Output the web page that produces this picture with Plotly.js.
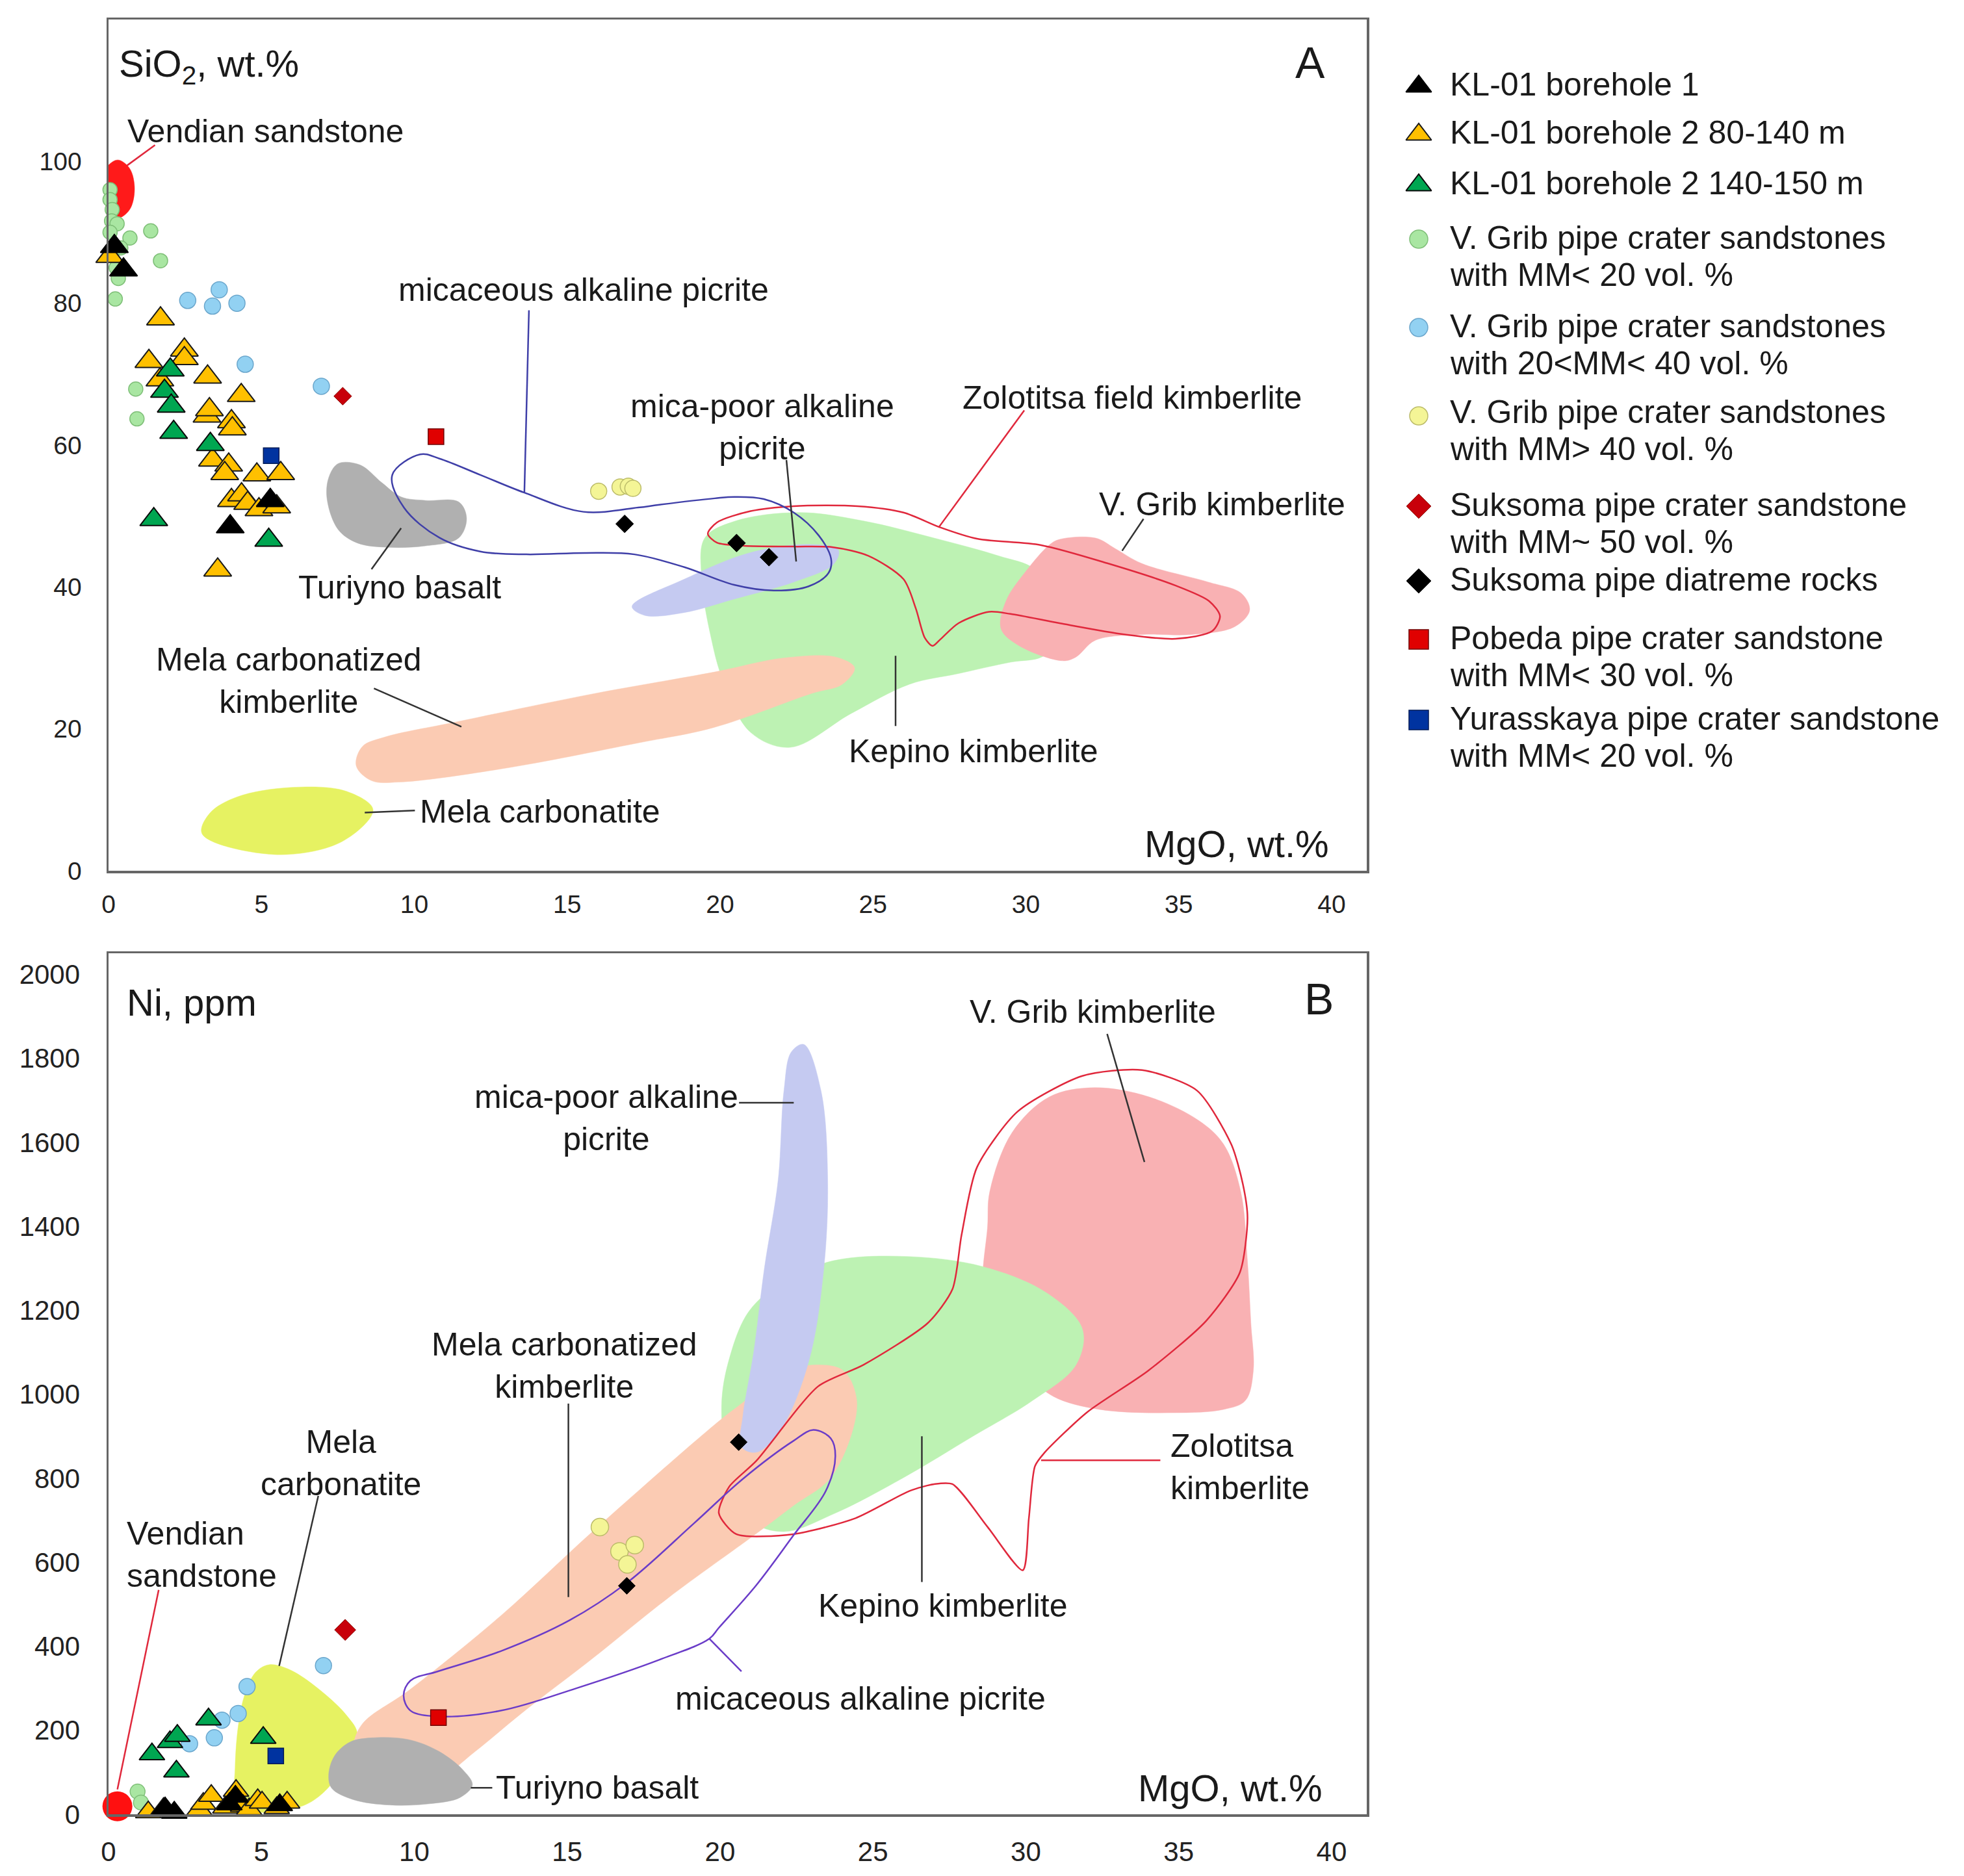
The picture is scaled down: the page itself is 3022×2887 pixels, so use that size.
<!DOCTYPE html>
<html><head><meta charset="utf-8">
<script src="https://cdn.plot.ly/plotly-3.0.1.min.js"></script>
<style>html,body{margin:0;padding:0;background:#fff}#chart{width:3022px;height:2887px}</style>
</head><body><div id="chart"></div>
<script>
// ================= DATA =================
const MGO_TICKS  = [0, 5, 10, 15, 20, 25, 30, 35, 40];
const SIO2_TICKS = [0, 20, 40, 60, 80, 100];
const NI_TICKS   = [0, 200, 400, 600, 800, 1000, 1200, 1400, 1600, 1800, 2000];

// ---- Panel A samples: [MgO wt.%, SiO2 wt.%]
const A_kl1    = [[0.19,88.0],[0.49,84.7],[3.98,48.5],[5.29,52.2]];
const A_kl2a   = [[0.04,86.6],[1.70,77.8],[2.48,73.4],[2.48,72.2],[1.32,71.8],[1.68,69.2],[3.24,69.6],[4.34,67.0],[3.22,64.1],[3.30,65.0],[4.02,63.3],[4.05,62.3],[3.40,57.9],[3.93,57.2],[3.80,56.0],[4.85,55.8],[5.63,56.0],[4.02,52.2],[4.35,53.0],[4.55,51.8],[4.92,50.9],[5.50,51.3],[3.57,42.4]];
const A_kl2b   = [[2.02,70.6],[1.83,67.6],[2.05,65.5],[2.13,61.8],[3.33,60.1],[1.48,49.5],[5.24,46.6]];
const A_vg20   = [[0.05,96.0],[0.05,94.6],[0.12,93.2],[0.10,91.6],[0.28,91.2],[0.05,90.0],[0.70,89.2],[1.38,90.2],[1.70,86.0],[0.40,87.8],[0.25,85.0],[0.32,83.5],[0.22,80.6],[0.89,67.9],[0.93,63.7]];
const A_vg2040 = [[2.59,80.4],[3.62,81.9],[3.40,79.6],[4.20,80.0],[4.47,71.4],[6.96,68.3]];
const A_vg40   = [[16.03,53.5],[16.73,54.1],[17.00,54.2],[17.15,53.9]];
const A_sukC   = [[7.66,66.9]];
const A_sukD   = [[16.88,48.9],[20.54,46.2],[21.60,44.2]];
const A_pob    = [[10.71,61.2]];
const A_yur    = [[5.32,58.5]];

// ---- Panel B samples: [MgO wt.%, Ni ppm]
const B_kl1    = [[1.85,14],[2.15,4],[3.95,24],[4.15,42],[5.60,22]];
const B_kl2a   = [[1.30,5],[1.80,13],[2.97,11],[3.10,25],[3.36,44],[3.82,16],[4.17,56],[4.40,20],[4.60,12],[4.88,34],[5.02,28],[5.50,15],[5.84,28]];
const B_kl2b   = [[1.42,143],[2.01,172],[2.25,187],[3.27,226],[2.22,102],[5.06,182]];
const B_vg20   = [[0.95,54],[1.06,28]];
const B_vg2040 = [[4.53,304],[4.24,240],[3.71,224],[3.46,182],[2.65,168],[7.03,354]];
const B_vg40   = [[16.07,684],[16.71,626],[17.21,641],[16.97,595]];
const B_sukC   = [[7.74,439]];
const B_sukD   = [[20.61,886],[16.95,544]];
const B_pob    = [[10.79,230]];
const B_yur    = [[5.47,139]];
const B_vendian= [[0.29,19]];

// ---- Panel A fields (outlines in MgO / SiO2)
const FA_vendian   = [[0.30,100.2],[0.69,99.0],[0.85,96.1],[0.69,93.2],[0.30,92.0],[-0.09,93.2],[-0.25,96.1],[-0.09,99.0]];
const FA_melaCarb  = [[3.06,5.2],[3.31,8.1],[4.2,10.4],[5.99,11.75],[7.78,11.2],[8.65,8.6],[7.63,4.1],[5.4,2.3]];
const FA_melaKimb  = [[8.3,17.5],[9.0,18.8],[11.4,21.0],[15.8,24.9],[19.8,28.0],[22.1,30.0],[23.8,30.1],[24.4,28.6],[24.0,26.3],[23.0,25.0],[19.8,20.2],[17.3,18.0],[12.9,14.4],[9.5,12.5],[8.6,12.7],[8.1,14.8]];
const FA_turiyno   = [[7.51,57.4],[8.23,57.2],[8.94,54.7],[9.57,52.7],[10.37,52.2],[11.45,52.0],[11.71,49.7],[11.45,46.9],[10.37,45.8],[9.12,45.6],[8.14,46.2],[7.51,48.1],[7.15,52.3],[7.2,55.4]];
const FA_kepino    = [[19.5,46.9],[20.5,49.3],[22.6,50.5],[24.7,49.3],[27.0,46.9],[29.1,44.4],[30.3,42.5],[31.0,38.0],[31.0,32.0],[30.5,30.1],[29.5,29.4],[27.8,27.8],[26.2,26.3],[24.3,22.2],[22.3,17.4],[21.0,19.5],[20.1,26.8],[19.7,33.0],[19.4,41.1]];
const FA_vgrib     = [[30.76,45.9],[31.09,46.7],[32.28,46.9],[32.93,45.4],[33.8,43.3],[35.96,40.7],[37.05,39.1],[37.32,36.7],[36.83,34.4],[35.42,33.3],[33.8,33.3],[32.28,32.5],[31.63,30.1],[31.2,29.6],[29.79,31.7],[29.19,34.1],[29.35,38.0],[30.0,42.2]];
const FA_micaPoor  = [[17.12,37.25],[18.83,41.1],[20.95,44.8],[22.9,46.0],[23.87,45.2],[23.71,43.2],[22.41,40.7],[20.46,38.3],[18.83,36.4],[17.53,36.0]];
const FA_micaceous = [[10.19,58.7],[10.82,58.1],[12.16,55.8],[13.6,53.3],[15.53,50.6],[17.32,51.2],[18.02,51.6],[19.83,52.5],[20.46,52.7],[21.43,52.4],[22.41,50.5],[23.22,47.3],[23.63,44.0],[23.55,42.0],[22.9,40.1],[21.76,39.5],[20.46,40.3],[18.83,42.8],[17.2,44.6],[15.58,44.8],[13.67,44.6],[12.16,45.0],[10.82,46.95],[9.66,51.2],[9.28,55.8]];
const FA_zolotitsa = [[19.6,47.5],[19.9,49.1],[21.0,50.7],[22.4,51.4],[24.5,51.4],[26.0,50.5],[27.2,48.4],[28.4,46.8],[30.5,45.9],[32.7,43.3],[34.9,40.2],[36.0,38.0],[36.35,35.9],[36.1,33.8],[34.9,32.7],[33.25,33.3],[31.1,34.9],[29.5,36.2],[28.8,36.5],[27.8,34.9],[27.2,32.6],[26.95,31.7],[26.7,32.8],[26.4,37.0],[26.0,41.1],[24.85,44.4],[23.7,45.6],[22.4,45.7],[20.8,45.8],[19.9,46.25]];

// ---- Panel B fields (outlines in MgO / Ni)
const FB_melaCarb  = [[5.24,356],[4.81,338],[4.46,286],[4.25,214],[4.14,111],[4.17,34],[4.6,8],[6.02,13],[6.72,34],[7.43,85],[8.14,188],[7.79,235],[6.72,307],[5.87,346]];
const FB_melaKimb  = [[8.0,160],[8.3,215],[9.86,297],[12.85,474],[15.83,673],[19.83,928],[20.6,972],[22.0,1045],[22.8,1068],[24.0,1058],[24.45,995],[24.35,918],[23.6,800],[22.4,735],[21.2,669],[18.3,515],[15.9,375],[13.5,240],[12.0,150],[10.5,70],[9.0,60],[8.1,100]];
const FB_turiyno   = [[7.2,95],[7.4,140],[7.9,172],[8.6,182],[9.8,178],[10.8,150],[11.6,105],[11.9,70],[11.5,40],[10.5,25],[9.2,22],[8.0,35],[7.3,62]];
const FB_vgrib     = [[28.6,1250],[28.75,1400],[28.82,1482],[29.55,1623],[30.77,1708],[32.24,1730],[34.03,1708],[35.65,1652],[36.47,1595],[37.03,1482],[37.24,1325],[37.36,1170],[37.44,1056],[37.18,985],[36.47,964],[34.84,956],[32.4,964],[30.9,995],[30.0,1050],[29.0,1150]];
const FB_kepino    = [[20.05,971],[20.3,1084],[20.95,1198],[22.09,1269],[23.71,1318],[26.15,1328],[28.59,1304],[30.71,1240],[31.85,1155],[31.64,1070],[30.22,985],[28.27,900],[25.99,801],[23.71,715],[22.09,673],[21.0,700],[20.3,820]];
const FB_micaPoor  = [[22.74,1833],[23.3,1723],[23.52,1510],[23.39,1297],[22.9,1078],[22.0,918],[21.2,862],[20.7,875],[20.75,950],[21.1,1100],[21.45,1300],[21.9,1510],[22.09,1723],[22.33,1815]];
const FB_micaceous = [[9.65,283],[9.87,318],[10.76,340],[12.85,389],[15.08,462],[16.95,551],[19.15,693],[20.77,800],[22.4,889],[23.05,915],[23.62,895],[23.77,853],[23.46,770],[22.4,664],[21.18,545],[19.96,444],[19.65,418],[18.02,368],[15.3,300],[12.85,247],[10.76,233],[9.87,247]];
const FB_zolotitsa = [[19.96,717],[20.53,667],[22.4,667],[24.43,705],[26.2,770],[27.0,786],[27.6,786],[28.75,684],[29.9,581],[30.1,705],[30.3,829],[30.6,860],[32.0,957],[34.0,1056],[35.9,1175],[37.0,1290],[37.25,1420],[37.1,1500],[36.72,1595],[35.6,1723],[33.8,1772],[31.85,1758],[29.73,1673],[28.4,1540],[27.9,1380],[27.6,1250],[26.8,1170],[24.69,1070],[23.21,1019],[21.18,841],[20.3,780]];

// ---- legend
const LEGEND_LABELS = [
  ['KL-01 borehole 1'],
  ['KL-01 borehole 2 80-140 m'],
  ['KL-01 borehole 2 140-150 m'],
  ['V. Grib pipe crater sandstones', 'with MM&lt; 20 vol. %'],
  ['V. Grib pipe crater sandstones', 'with 20&lt;MM&lt; 40 vol. %'],
  ['V. Grib pipe crater sandstones', 'with MM&gt; 40 vol. %'],
  ['Suksoma pipe crater sandstone', 'with MM~ 50 vol. %'],
  ['Suksoma pipe diatreme rocks'],
  ['Pobeda pipe crater sandstone', 'with MM&lt; 30 vol. %'],
  ['Yurasskaya pipe crater sandstone', 'with MM&lt; 20 vol. %']
];

// ================= STYLE / LAYOUT =================
const W = 3022, H = 2887;
const FONT = 'Liberation Sans, Arial, Helvetica, sans-serif';
const TXT = '#1a1a1a';

const STYLE = {
  kl1:   {symbol:'triangle-up', color:'#000000', line:'#000000', lw:2},
  kl2a:  {symbol:'triangle-up', color:'#FFC000', line:'#1a1a1a', lw:2},
  kl2b:  {symbol:'triangle-up', color:'#00A651', line:'#0a0a0a', lw:2},
  vg20:  {symbol:'circle',      color:'#A9E6A2', line:'#7fbf78', lw:1.5},
  vg2040:{symbol:'circle',      color:'#92D1F2', line:'#6aa6cc', lw:1.5},
  vg40:  {symbol:'circle',      color:'#F4F596', line:'#bcbc6a', lw:1.5},
  sukC:  {symbol:'diamond',     color:'#C8000A', line:'#8a0000', lw:1},
  sukD:  {symbol:'diamond',     color:'#000000', line:'#000000', lw:1},
  pob:   {symbol:'square',      color:'#E00000', line:'#700000', lw:1.5},
  yur:   {symbol:'square',      color:'#0033A0', line:'#001a55', lw:1.5}
};
const ORDER = ['kl1','kl2a','kl2b','vg20','vg2040','vg40','sukC','sukD','pob','yur'];
const DRAW_ORDER = ['vg20','vg2040','kl2a','kl2b','kl1','vg40','sukC','sukD','pob','yur'];
const SIZE_A = {triangle:37, circle:{vg20:22, vg2040:25, vg40:25}, diamond:{sukC:21, sukD:21}, square:24};
const SIZE_B = {triangle:34, circle:{vg20:23, vg2040:25, vg40:27}, diamond:{sukC:25, sukD:20}, square:24};
const SIZE_L = {triangle:34, circle:28, diamond:29, square:30};

const DATA_A = {kl1:A_kl1, kl2a:A_kl2a, kl2b:A_kl2b, vg20:A_vg20, vg2040:A_vg2040, vg40:A_vg40, sukC:A_sukC, sukD:A_sukD, pob:A_pob, yur:A_yur};
const DATA_B = {kl1:B_kl1, kl2a:B_kl2a, kl2b:B_kl2b, vg20:B_vg20, vg2040:B_vg2040, vg40:B_vg40, sukC:B_sukC, sukD:B_sukD, pob:B_pob, yur:B_yur};

function sizeFor(key, tbl) {
  const s = STYLE[key].symbol;
  if (s === 'triangle-up') return tbl.triangle;
  if (s === 'circle') return tbl.circle[key];
  if (s === 'diamond') return tbl.diamond[key];
  return tbl.square;
}
function plain(t) { return t.replace(/&lt;/g,'<').replace(/&gt;/g,'>'); }

const traces = [];
function field(pts, xa, ya, fill, name) {
  const c = pts.concat([pts[0]]);
  traces.push({type:'scatter', mode:'lines', x:c.map(p=>p[0]), y:c.map(p=>p[1]), xaxis:xa, yaxis:ya,
    fill:'toself', fillcolor:fill, line:{color:fill, width:0.5, shape:'spline', smoothing:1},
    hoverinfo:'name', name:name, showlegend:false});
}
function outline(pts, xa, ya, color, width, name, sm) {
  const c = pts.concat([pts[0]]);
  traces.push({type:'scatter', mode:'lines', x:c.map(p=>p[0]), y:c.map(p=>p[1]), xaxis:xa, yaxis:ya,
    fill:'none', line:{color:color, width:width, shape:'spline', smoothing:sm||1},
    hoverinfo:'name', name:name, showlegend:false});
}
function samples(dataMap, xa, ya, sizes, panel) {
  DRAW_ORDER.forEach(k => {
    const st = STYLE[k], pts = dataMap[k];
    const idx = ORDER.indexOf(k);
    traces.push({type:'scatter', mode:'markers', xaxis:xa, yaxis:ya, cliponaxis:false,
      name: plain(LEGEND_LABELS[idx].join(' ')) + ' (' + panel + ')',
      x: pts.map(p=>p[0]), y: pts.map(p=>p[1]), showlegend:false,
      marker:{symbol:st.symbol, size:sizeFor(k, sizes), color:st.color, line:{color:st.line, width:st.lw}}});
  });
}

const C = {
  vendian:'#FF1A1A', gray:'#B0B0B0', melaCarb:'#E6F262', melaKimb:'#FBCBB3',
  kepino:'#BDF2B3', vgrib:'#F9B1B3', micaPoor:'#C5CAF1',
  micaceousA:'#3F3FA8', micaceousB:'#6A3CC8', zolot:'#E0283C', lead:'#333333'
};

// ---- Panel A
field(FA_melaCarb, 'x','y', C.melaCarb, 'Mela carbonatite');
field(FA_turiyno,  'x','y', C.gray,     'Turiyno basalt');
field(FA_kepino,   'x','y', C.kepino,   'Kepino kimberlite');
field(FA_melaKimb, 'x','y', C.melaKimb, 'Mela carbonatized kimberlite');
field(FA_vgrib,    'x','y', C.vgrib,    'V. Grib kimberlite');
field(FA_micaPoor, 'x','y', C.micaPoor, 'mica-poor alkaline picrite');
field(FA_vendian,  'x','y', C.vendian,  'Vendian sandstone');
outline(FA_zolotitsa, 'x','y', C.zolot, 2.5, 'Zolotitsa field kimberlite', 0.8);
outline(FA_micaceous, 'x','y', C.micaceousA, 2.5, 'micaceous alkaline picrite', 1);
samples(DATA_A, 'x', 'y', SIZE_A, 'A');

// ---- Panel B
field(FB_vgrib,    'x2','y2', C.vgrib,    'V. Grib kimberlite');
field(FB_kepino,   'x2','y2', C.kepino,   'Kepino kimberlite');
field(FB_melaCarb, 'x2','y2', C.melaCarb, 'Mela carbonatite');
field(FB_melaKimb, 'x2','y2', C.melaKimb, 'Mela carbonatized kimberlite');
field(FB_turiyno,  'x2','y2', C.gray,     'Turiyno basalt');
field(FB_micaPoor, 'x2','y2', C.micaPoor, 'mica-poor alkaline picrite');
outline(FB_zolotitsa, 'x2','y2', C.zolot, 2.5, 'Zolotitsa kimberlite', 0.7);
outline(FB_micaceous, 'x2','y2', C.micaceousB, 2.5, 'micaceous alkaline picrite', 1);
traces.push({type:'scatter', mode:'markers', xaxis:'x2', yaxis:'y2', cliponaxis:false, name:'Vendian sandstone',
  x:B_vendian.map(p=>p[0]), y:B_vendian.map(p=>p[1]), showlegend:false,
  marker:{symbol:'circle', size:46, color:'#FF1010', line:{width:0}}});
samples(DATA_B, 'x2', 'y2', SIZE_B, 'B');

// ---- custom legend (own overlay axes in pixel units)
const LEG_DOMAIN_X = [0.70, 1.0], LEG_DOMAIN_Y = [0.57, 1.0];
const LEG_X0 = W * LEG_DOMAIN_X[0], LEG_Y1 = H * (1 - LEG_DOMAIN_Y[0]);
const LEG_SYMBOL_X = 2183, LEG_TEXT_X = 2229, LEG_LINE = 57;
const LEG_ROWS = [130, 204, 282, 366, 502, 634, 777, 892, 982, 1106];
ORDER.forEach((k, i) => {
  const st = STYLE[k];
  const sz = st.symbol === 'triangle-up' ? SIZE_L.triangle : st.symbol === 'circle' ? SIZE_L.circle : st.symbol === 'diamond' ? SIZE_L.diamond : SIZE_L.square;
  const dy = st.symbol === 'triangle-up' ? 3 : (k === 'vg40' ? 6 : 2);
  traces.push({type:'scatter', mode:'markers', xaxis:'x3', yaxis:'y3', cliponaxis:false, hoverinfo:'skip', showlegend:false,
    x:[LEG_SYMBOL_X], y:[LEG_ROWS[i] + dy],
    marker:{symbol:st.symbol, size:sz, color:st.color, line:{color:st.line, width:st.lw}}});
});

// ---- annotations
const ann = [];
function lab(text, x, y, xr, yr, opts) {
  ann.push(Object.assign({text:text, x:x, y:y, xref:xr, yref:yr, showarrow:false,
    font:{family:FONT, size:50, color:TXT}, xanchor:'center', yanchor:'middle', align:'center'}, opts||{}));
}
// Panel A labels
lab('Vendian sandstone', 5.14, 104.2, 'x','y');
lab('micaceous alkaline picrite', 15.53, 81.9, 'x','y');
lab('mica-poor alkaline<br>picrite', 21.38, 62.55, 'x','y');
lab('Zolotitsa field kimberlite', 33.47, 66.7, 'x','y');
lab('V. Grib kimberlite', 36.42, 51.7, 'x','y');
lab('Turiyno basalt', 9.53, 39.9, 'x','y');
lab('Mela carbonatized<br>kimberlite', 5.9, 26.75, 'x','y');
lab('Kepino kimberlite', 28.3, 16.9, 'x','y');
lab('Mela carbonatite', 14.12, 8.3, 'x','y');
// Panel B labels
lab('Vendian<br>sandstone', 0.55, 618, 'x2','y2', {xanchor:'left', align:'left'});
lab('Mela<br>carbonatite', 7.6, 837, 'x2','y2');
lab('Turiyno basalt', 12.63, 63, 'x2','y2', {xanchor:'left', align:'left'});
lab('Mela carbonatized<br>kimberlite', 14.9, 1068, 'x2','y2');
lab('mica-poor alkaline<br>picrite', 16.28, 1658, 'x2','y2');
lab('V. Grib kimberlite', 32.2, 1910, 'x2','y2');
lab('Kepino kimberlite', 27.29, 496, 'x2','y2');
lab('micaceous alkaline picrite', 24.6, 276, 'x2','y2');
lab('Zolotitsa<br>kimberlite', 34.69, 827, 'x2','y2', {xanchor:'left', align:'left'});
// axis titles & panel letters (paper)
lab('SiO<sub>2</sub>, wt.%', 181/W, 1-102/H, 'paper','paper', {xanchor:'left', font:{family:FONT,size:58,color:TXT}});
lab('MgO, wt.%', 2047/W, 1-1298/H, 'paper','paper', {xanchor:'right', font:{family:FONT,size:58,color:TXT}});
lab('A', 2016/W, 1-96/H, 'paper','paper', {font:{family:FONT,size:68,color:TXT}});
lab('Ni, ppm', 193/W, 1-1542/H, 'paper','paper', {xanchor:'left', font:{family:FONT,size:58,color:TXT}});
lab('MgO, wt.%', 2037/W, 1-2751/H, 'paper','paper', {xanchor:'right', font:{family:FONT,size:58,color:TXT}});
lab('B', 2030/W, 1-1537/H, 'paper','paper', {font:{family:FONT,size:68,color:TXT}});
// legend texts
LEGEND_LABELS.forEach((lines, i) => {
  lines.forEach((t, j) => {
    lab(t, LEG_TEXT_X, LEG_ROWS[i] + j*LEG_LINE, 'x3','y3', {xanchor:'left', align:'left'});
  });
});

// ---- leader lines [x0,y0,x1,y1,colour]
const LEADERS_A = [
  [1.52,102.3,0.6,99.4,C.zolot],[13.75,79.0,13.6,53.3,C.micaceousA],[22.17,57.9,22.49,43.6,C.lead],
  [29.95,64.9,27.15,48.4,C.zolot],[33.85,49.6,33.15,45.1,C.lead],[8.6,42.5,9.57,48.3,C.lead],
  [8.68,25.7,11.54,20.3,C.lead],[25.74,30.3,25.74,20.4,C.lead],[8.38,8.2,10.02,8.5,C.lead]
];
const LEADERS_B = [
  [1.64,534,0.29,59,C.zolot],[6.86,758,5.58,353,C.lead],[11.85,63,12.55,63,C.lead],
  [15.04,978,15.04,517,C.lead],[20.62,1694,22.41,1694,C.lead],[32.66,1858,33.88,1553,C.lead],
  [26.6,900,26.6,553,C.lead],[19.65,418,20.7,340,C.micaceousB],[30.5,843,34.4,843,C.zolot]
];
const shapes = [];
LEADERS_A.forEach(l => shapes.push({type:'line', xref:'x', yref:'y', x0:l[0], y0:l[1], x1:l[2], y1:l[3], line:{color:l[4], width:2.5}, layer:'above'}));
LEADERS_B.forEach(l => shapes.push({type:'line', xref:'x2', yref:'y2', x0:l[0], y0:l[1], x1:l[2], y1:l[3], line:{color:l[4], width:2.5}, layer:'above'}));

const axisBase = {showline:true, mirror:true, linecolor:'#666666', linewidth:3.5, showgrid:false, zeroline:false,
  ticks:'', fixedrange:true, tickfont:{family:FONT, size:39, color:'#222'}};
const XD = [167/W, 2103/W];
const layout = {
  width:W, height:H, margin:{l:0,r:0,t:0,b:0}, paper_bgcolor:'#ffffff', plot_bgcolor:'rgba(0,0,0,0)',
  showlegend:false, font:{family:FONT},
  xaxis: Object.assign({}, axisBase, {domain:XD, range:[0,41.15], tickvals:MGO_TICKS, anchor:'y', ticklabelstandoff:15}),
  yaxis: Object.assign({}, axisBase, {domain:[1-1340/H, 1-30/H], range:[0,120], tickvals:SIO2_TICKS, anchor:'x', ticklabelstandoff:30}),
  xaxis2: Object.assign({}, axisBase, {domain:XD, range:[0,41.15], tickvals:MGO_TICKS, anchor:'y2', ticklabelstandoff:18, tickfont:{family:FONT,size:42,color:'#222'}}),
  yaxis2: Object.assign({}, axisBase, {domain:[1-2792/H, 1-1467/H], range:[0,2050], tickvals:NI_TICKS, anchor:'x2', ticklabelstandoff:32, tickfont:{family:FONT,size:42,color:'#222'}}),
  xaxis3: {domain:LEG_DOMAIN_X, range:[LEG_X0, W], visible:false, fixedrange:true, anchor:'y3'},
  yaxis3: {domain:LEG_DOMAIN_Y, range:[LEG_Y1, 0], visible:false, fixedrange:true, anchor:'x3'},
  annotations: ann, shapes: shapes
};
Plotly.newPlot('chart', traces, layout, {displayModeBar:false, staticPlot:true});
</script></body></html>
